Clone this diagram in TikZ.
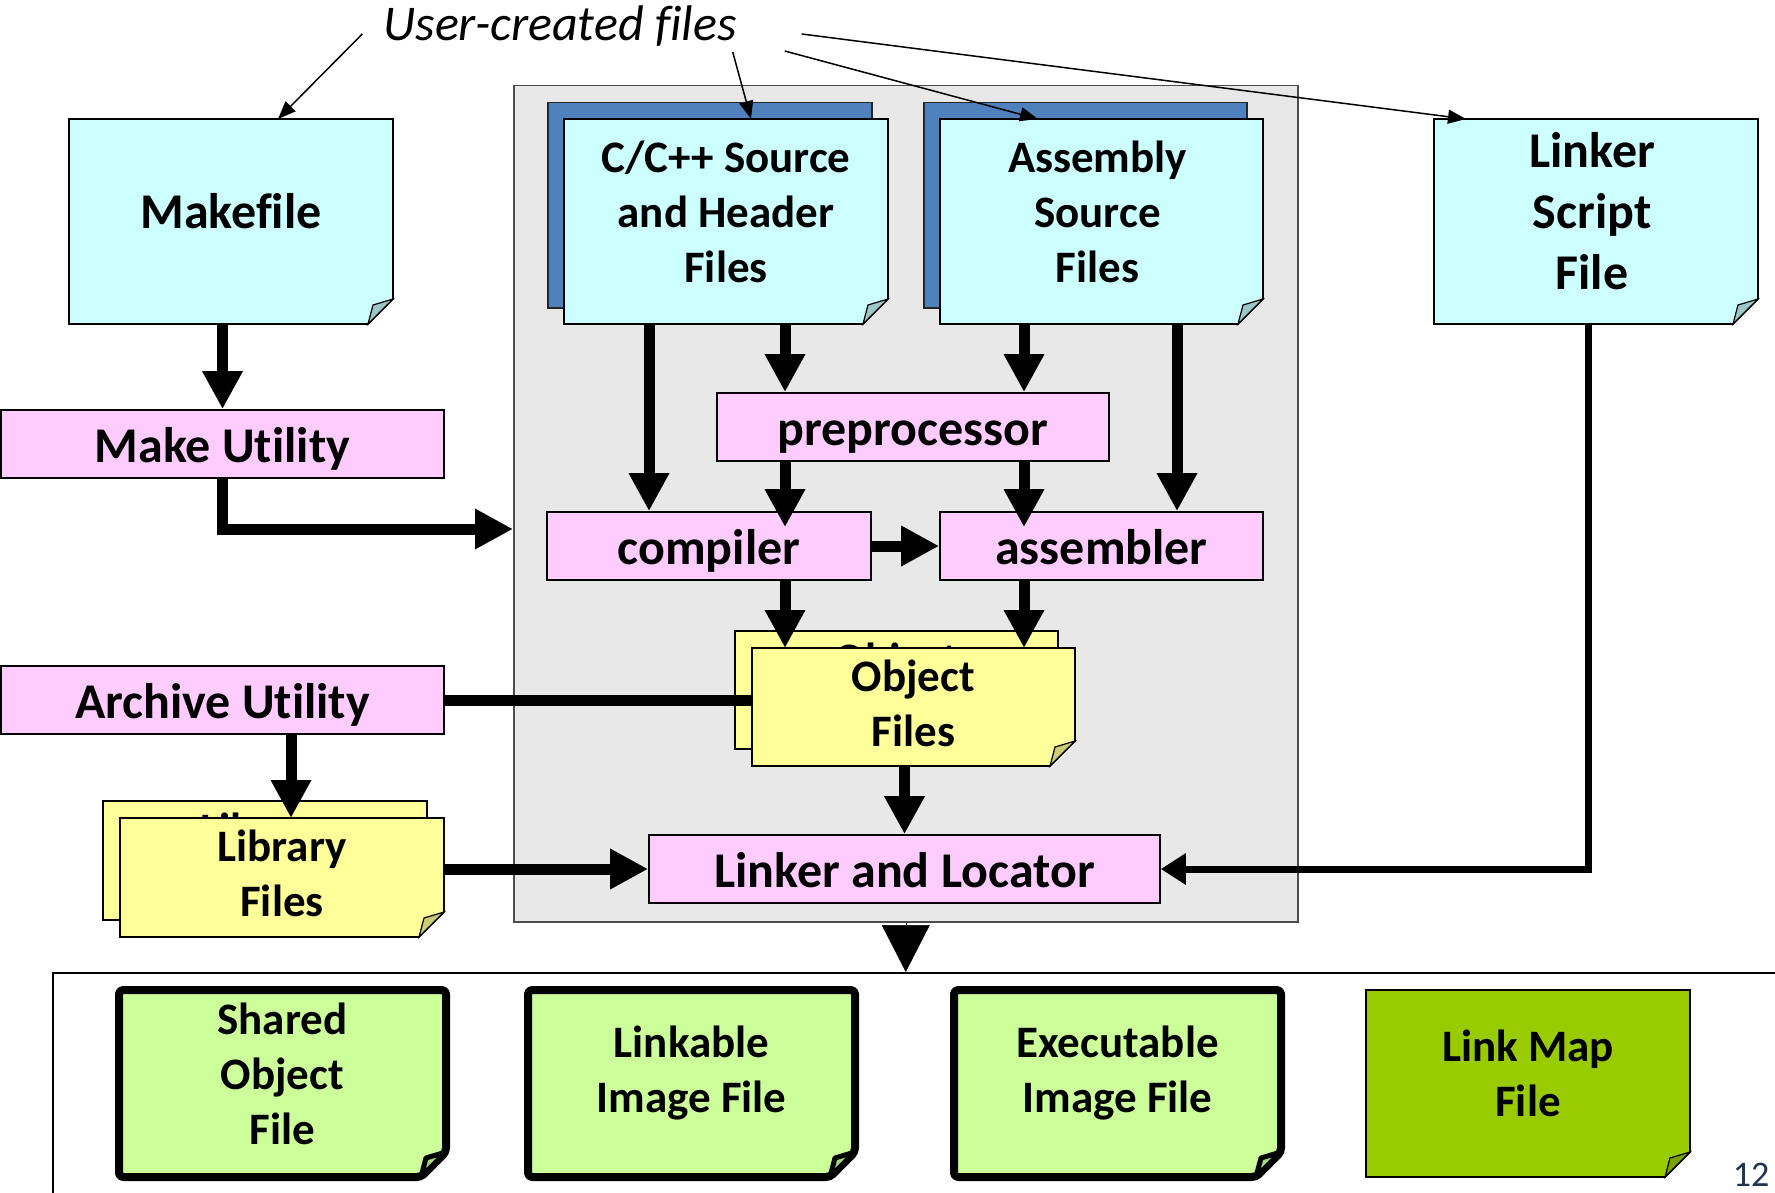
\documentclass[tikz,border=0pt]{standalone}
\usepackage{fontspec}
\setmainfont{Carlito}[Ligatures={NoCommon}]
\usetikzlibrary{arrows.meta,calc}
\definecolor{cyanF}{HTML}{CCFFFF}
\definecolor{cyanD}{HTML}{9CC8C8}
\definecolor{blueB}{HTML}{4F81BD}
\definecolor{pinkF}{HTML}{FFCCFF}
\definecolor{yelF}{HTML}{FFFF99}
\definecolor{yelD}{HTML}{CCCC77}
\definecolor{grayP}{HTML}{E8E8E8}
\definecolor{grnL}{HTML}{CCFF99}
\definecolor{grnLD}{HTML}{A8D878}
\definecolor{grnD}{HTML}{99CC00}
\definecolor{grnDD}{HTML}{7AA300}
\definecolor{slateT}{HTML}{1F3552}
\newcommand{\docbox}[9]{%
  \path[#6] (#2,#3) -- (#4,#3) -- (#4,#5-25) -- (#4-25,#5) -- (#2,#5) -- cycle;
  \path[#7] (#4,#5-25) -- (#4-20,#5-19) -- (#4-25,#5) -- cycle;
  \node[anchor=north west, inner sep=0, outer sep=0, minimum width={(#4-#2)*1pt}, minimum height={(#5-#3)*1pt}] (#1) at (#2,#3) {};
  \node[#8] (#1-t) at (#1.center) {#9};
}
\begin{document}
\begin{tikzpicture}[x=1pt,y=-1pt,
  cyanbody/.style={fill=cyanF, draw=black, line width=1.7pt},
  cyanfold/.style={fill=cyanD, draw=black, line width=1.2pt},
  yelbody/.style={fill=yelF, draw=black, line width=1.7pt},
  yelfold/.style={fill=yelD, draw=black, line width=1.2pt},
  grnbody/.style={fill=grnL, draw=black, line width=8pt, line join=round, rounded corners=4pt},
  grnfold/.style={fill=grnLD, draw=black, line width=5pt, line join=round},
  mapbody/.style={fill=grnD, draw=black, line width=1.8pt},
  mapfold/.style={fill=grnDD, draw=black, line width=1.2pt},
  bluebox/.style={fill=blueB, draw=black!85, line width=1.5pt, inner sep=0, anchor=north west},
  panelbox/.style={fill=grayP, draw=black!70, line width=1.5pt, inner sep=0, anchor=north west},
  lblA/.style={font=\fontsize{50}{61}\selectfont\bfseries, align=center, inner sep=0},
  lblB/.style={font=\fontsize{45}{55}\selectfont\bfseries, align=center, inner sep=0},
  pinkbox/.style={draw, line width=1.7pt, fill=pinkF, inner sep=0, minimum height=68pt, text height=36pt, text depth=0pt, font=\fontsize{50}{60}\selectfont\bfseries},
  bigarrow/.style={line width=11pt, line join=miter, -{Triangle[width=38pt,length=38pt]}},
  bigline/.style={line width=11pt},
  medarrow/.style={line width=7pt, line join=miter, -{Triangle[width=30pt,length=25pt]}},
  thinarrow/.style={line width=1.5pt, -{Triangle[width=14pt,length=18pt]}},
  tri/.style={line width=0.5pt, -{Triangle[width=48pt,length=47pt]}}
]
\useasboundingbox (0,0) rectangle (1775,1193);

% containers
\node[panelbox, minimum width=784pt, minimum height=836pt] (panel) at (513,85) {};
\node[draw, line width=2pt, inner sep=0, anchor=north west, minimum width=1800pt, minimum height=300pt] (outbox) at (52,972) {};

% label
\node[font=\fontsize{50}{60}\selectfont\itshape, inner sep=0, anchor=base] (uc) at (560,41) {User-created files};

% user files
\docbox{mkf}{69}{119}{393}{324}{cyanbody}{cyanfold}{lblA,yshift=10pt}{Makefile}
\node[bluebox, minimum width=324pt, minimum height=205pt] (cback) at (547,102) {};
\docbox{csrc}{564}{119}{888}{324}{cyanbody}{cyanfold}{lblB,yshift=10pt}{C/C++ Source\\and Header\\Files}
\node[bluebox, minimum width=323pt, minimum height=205pt] (aback) at (923,102) {};
\docbox{asrc}{940}{119}{1263}{324}{cyanbody}{cyanfold}{lblB,yshift=10pt,xshift=-4pt}{Assembly\\Source\\Files}
\docbox{lscr}{1434}{119}{1758}{324}{cyanbody}{cyanfold}{lblA,yshift=10pt,xshift=-4pt}{Linker\\Script\\File}

% tools
\node[pinkbox, minimum width=443pt] (mku) at (222.5,444) {Make Utility};
\node[pinkbox, minimum width=392pt] (pre) at (913,427) {preprocessor};
\node[pinkbox, minimum width=324pt] (comp) at (709,546) {compiler};
\node[pinkbox, minimum width=323pt] (asm) at (1101.5,546) {assembler};
\node[pinkbox, minimum width=443pt] (arch) at (222.5,700) {Archive Utility};
\node[pinkbox, minimum width=511pt] (lnk) at (904.5,869) {Linker and Locator};

% helper coordinates
\coordinate (cL) at (649,0);
\coordinate (cR) at (785,0);
\coordinate (aL) at (1024,0);
\coordinate (aR) at (1177,0);
\coordinate (mkin) at (0,529);
\coordinate (lsx) at (1588,0);
\coordinate (arx) at (291,0);

% object files
\docbox{objb}{735}{631}{1058}{749}{yelbody}{yelfold}{lblB,yshift=4pt}{Object\\Files}
\draw[bigline] (arch.east) -- (cL |- arch.east) -- ($(cL |- arch.east)+(110,0)$);
\docbox{objf}{752}{648}{1075}{766}{yelbody}{yelfold}{lblB,yshift=4pt}{Object\\Files}

% library files
\docbox{libb}{103}{801}{427}{920}{yelbody}{yelfold}{lblB,yshift=4pt}{Library\\Files}
\docbox{libf}{120}{818}{444}{937}{yelbody}{yelfold}{lblB,yshift=4pt}{Library\\Files}

% outputs
\docbox{shr}{119}{990}{446}{1177}{grnbody}{grnfold}{lblB,yshift=10pt}{Shared\\Object\\File}
\docbox{limg}{528}{990}{855}{1177}{grnbody}{grnfold}{lblB,yshift=10pt}{Linkable\\Image File}
\docbox{exe}{954}{990}{1281}{1177}{grnbody}{grnfold}{lblB,yshift=10pt}{Executable\\Image File}
\docbox{lmap}{1366}{990}{1690}{1177}{mapbody}{mapfold}{lblB,yshift=10pt}{Link Map\\File}

\node[font=\fontsize{36}{40}\selectfont, text=slateT, inner sep=0] (pg) at (1751,1175) {12};

% connectors
\draw[bigarrow] (mku.north |- mkf.south) -- (mku.north);
\draw[bigarrow] (mku.south) |- (panel.west |- mkin);
\draw[bigarrow] (cL |- csrc.south) -- (cL |- comp.north);
\draw[bigarrow] (cR |- csrc.south) -- (cR |- pre.north);
\draw[bigarrow] (aL |- asrc.south) -- (aL |- pre.north);
\draw[bigarrow] (aR |- asrc.south) -- (aR |- asm.north);
\draw[bigarrow] (cR |- pre.south) -- ($(cR |- comp.north)+(0,16)$);
\draw[bigarrow] (aL |- pre.south) -- ($(aL |- asm.north)+(0,16)$);
\draw[bigarrow] (comp.east) -- (asm.west);
\draw[bigarrow] (cR |- comp.south) -- (cR |- objf.north);
\draw[bigarrow] (aL |- asm.south) -- (aL |- objf.north);
\draw[bigarrow] (arx |- arch.south) -- (arx |- libf.north);
\draw[bigarrow] (lnk.north |- objf.south) -- (lnk.north);
\draw[bigarrow] (libf.east |- lnk.west) -- (lnk.west);
\draw[medarrow] (lsx |- lscr.south) |- (lnk.east);
\draw[tri] (panel.south) -- (outbox.north -| panel.south);

% label arrows
\draw[thinarrow] ($(uc.base west)+(-21,-7)$) -- ([xshift=209pt]mkf.north west);
\draw[thinarrow] ($(uc.base east)+(-4,11)$) -- ([xshift=187pt]csrc.north west);
\draw[thinarrow] ($(uc.base east)+(48,10)$) -- ([xshift=98pt]asrc.north west);
\draw[thinarrow] ($(uc.base east)+(65,-7)$) -- ([xshift=32pt]lscr.north west);
\end{tikzpicture}
\end{document}
